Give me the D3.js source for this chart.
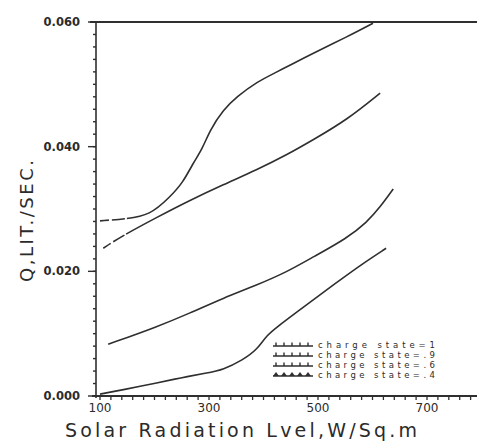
<!DOCTYPE html>
<html>
<head>
<meta charset="utf-8">
<script src="https://cdn.jsdelivr.net/npm/d3@7"></script>
<style>
  body { margin: 0; background: #fff; }
  svg { display: block; }
  text { font-family: "DejaVu Sans", sans-serif; fill: #2b2b2b; }
</style>
</head>
<body>
<div id="chart"></div>
<script>
// -------------------------------------------------------------------------
// Data

const stateLabels = ['charge state=1', 'charge state=.9', 'charge state=.6', 'charge state=.4'];

const xTickValues = [100, 300, 500, 700];
const yTickValues = [0, 0.02, 0.04, 0.06];
const yTickLabels = ['0.000', '0.020', '0.040', '0.060'];

// solar radiation (W/sq.m) and flow (lit/sec) for each charge state
const radState1 = [100, 146, 192, 228, 252, 271, 287, 302, 326, 351, 388, 425, 449, 491, 553, 601];
const flowState1 = [0.0281, 0.0284, 0.0290, 0.0319, 0.0342, 0.0374, 0.0395, 0.0427, 0.0459, 0.0480, 0.0504, 0.0520, 0.0531, 0.0550, 0.0576, 0.0598];

const radState09 = [106, 137, 205, 265, 326, 388, 443, 491, 553, 614];
const flowState09 = [0.0237, 0.0255, 0.0287, 0.0314, 0.0339, 0.0363, 0.0387, 0.0411, 0.0443, 0.0486];

const radState06 = [115, 205, 265, 326, 388, 443, 491, 553, 590, 614, 638];
const flowState06 = [0.0083, 0.0111, 0.0133, 0.0157, 0.0178, 0.0199, 0.0223, 0.0253, 0.0279, 0.0303, 0.0332];

const radState04 = [100, 142, 205, 247, 296, 326, 362, 388, 406, 430, 449, 540, 583, 625];
const flowState04 = [0.0003, 0.0010, 0.0021, 0.0029, 0.0037, 0.0042, 0.0058, 0.0074, 0.0098, 0.0114, 0.0127, 0.0186, 0.0213, 0.0237];

// -------------------------------------------------------------------------
// Layout

const width = 477;
const height = 445;
const ink = '#2f2f2f';

const x = d3.scaleLinear().domain([100, 700]).range([100, 427]);
const y = d3.scaleLinear().domain([0, 0.06]).range([396, 22]);

const svg = d3.select('#chart').append('svg')
  .attr('width', width)
  .attr('height', height);

// frame: left axis, top rule, bottom axis
svg.append('line')
  .attr('x1', 96).attr('x2', 96)
  .attr('y1', y(0.06)).attr('y2', y(0) + 2)
  .attr('stroke', ink).attr('stroke-width', 1.6);

svg.append('line')
  .attr('x1', 90).attr('x2', width)
  .attr('y1', y(0.06)).attr('y2', y(0.06))
  .attr('stroke', ink).attr('stroke-width', 2);

svg.append('line')
  .attr('x1', 92).attr('x2', width)
  .attr('y1', y(0)).attr('y2', y(0))
  .attr('stroke', ink).attr('stroke-width', 1.8);

// minor ticks on the x axis, every 20 units, pointing down
const xMinor = d3.range(100, 800, 20);
svg.append('g').selectAll('line')
  .data(xMinor)
  .join('line')
  .attr('x1', d => x(d)).attr('x2', d => x(d))
  .attr('y1', y(0)).attr('y2', y(0) + 4)
  .attr('stroke', ink).attr('stroke-width', 1.3);

// minor ticks on the y axis, every 0.002
const yMinor = d3.range(0, 0.0601, 0.002);
svg.append('g').selectAll('line')
  .data(yMinor)
  .join('line')
  .attr('x1', 93).attr('x2', 96)
  .attr('y1', d => y(d)).attr('y2', d => y(d))
  .attr('stroke', ink).attr('stroke-width', 1.4);

// major y ticks and labels
svg.append('g').selectAll('line')
  .data(yTickValues)
  .join('line')
  .attr('x1', 88).attr('x2', 96)
  .attr('y1', d => y(d)).attr('y2', d => y(d))
  .attr('stroke', ink).attr('stroke-width', 1.4);

svg.append('g').selectAll('text')
  .data(yTickValues)
  .join('text')
  .attr('x', 80)
  .attr('y', d => y(d) + 4)
  .attr('text-anchor', 'end')
  .style('font-size', '11.5px')
  .style('font-weight', 'bold')
  .text((d, i) => yTickLabels[i]);

// x tick labels
svg.append('g').selectAll('text')
  .data(xTickValues)
  .join('text')
  .attr('x', d => x(d))
  .attr('y', y(0) + 16)
  .attr('text-anchor', 'middle')
  .style('font-size', '12px')
  .text(d => d);

// axis titles
svg.append('text')
  .attr('x', 65)
  .attr('y', 437)
  .attr('textLength', 352)
  .attr('lengthAdjust', 'spacing')
  .style('font-size', '19px')
  .text('Solar Radiation Lvel,W/Sq.m');

svg.append('text')
  .attr('transform', 'translate(33,282) rotate(-90)')
  .attr('textLength', 122)
  .attr('lengthAdjust', 'spacing')
  .style('font-size', '18px')
  .text('Q,LIT./SEC.');

// -------------------------------------------------------------------------
// Curves

const series = [
  { rad: radState1, flow: flowState1, dashed: true },
  { rad: radState09, flow: flowState09, dashed: true },
  { rad: radState06, flow: flowState06, dashed: false },
  { rad: radState04, flow: flowState04, dashed: false }
];

// hand-drawn curves: smooth through the read points
const line = d3.line()
  .x(d => x(d[0]))
  .y(d => y(d[1]))
  .curve(d3.curveBasis);

svg.append('g').selectAll('path')
  .data(series)
  .join('path')
  .attr('d', s => line(s.rad.map((r, i) => [r, s.flow[i]])))
  .attr('fill', 'none')
  .attr('stroke', ink)
  .attr('stroke-width', 1.6)
  .attr('stroke-dasharray', s => s.dashed ? '9,3,13,2,2000' : null);

// -------------------------------------------------------------------------
// Legend

const legendRowY = [344, 354, 364, 374];
const legend = svg.append('g');

stateLabels.forEach((label, i) => {
  const ly = legendRowY[i];
  const g = legend.append('g');
  g.append('line')
    .attr('x1', 273).attr('x2', 313)
    .attr('y1', ly + 2).attr('y2', ly + 2)
    .attr('stroke', ink).attr('stroke-width', 1.3);
  d3.range(5).forEach(k => {
    const mx = 276 + k * 8;
    if (i === 3) {
      g.append('path')
        .attr('d', `M${mx - 3},${ly + 2} L${mx},${ly - 2} L${mx + 3},${ly + 2} Z`)
        .attr('fill', ink);
    } else {
      g.append('line')
        .attr('x1', mx).attr('x2', mx)
        .attr('y1', ly + 2).attr('y2', ly - 1.5)
        .attr('stroke', ink).attr('stroke-width', 1.4);
    }
  });
  g.append('text')
    .attr('x', 318)
    .attr('y', ly + 3.5)
    .attr('textLength', 117)
    .attr('lengthAdjust', 'spacing')
    .style('font-size', '8.5px')
    .text(label);
});
</script>
</body>
</html>
